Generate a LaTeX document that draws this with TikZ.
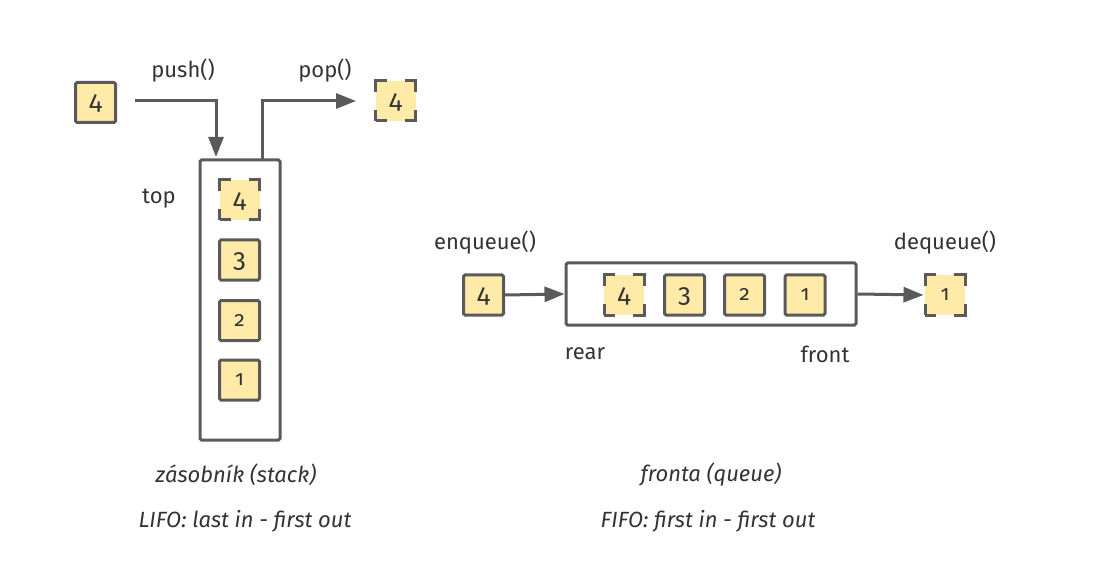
\documentclass[tikz,border=0pt]{standalone}
\usepackage{fontspec}
\setmainfont{Fira Sans}[Numbers=OldStyle]
\usetikzlibrary{arrows.meta}
\definecolor{itemfill}{HTML}{FFEAA8}
\definecolor{linegray}{HTML}{5A5A5A}
\definecolor{textgray}{HTML}{333333}
\tikzset{
  item/.style={draw=linegray, fill=itemfill, line width=3pt, rounded corners=1.5pt,
    minimum width=40pt, minimum height=40pt, inner sep=0pt, font=\fontsize{23}{25}\selectfont, text=textgray},
  itemd/.style={item, rounded corners=0pt, dash pattern=on 11pt off 18pt on 11pt off 0pt},
  tall/.style={font=\fontsize{26}{28}\selectfont, text depth=-3pt},
  short/.style={font=\fontsize{21}{23}\selectfont, text depth=1pt},
  container/.style={draw=linegray, line width=3pt, rounded corners=1.5pt, inner sep=0pt},
  lbl/.style={font=\fontsize{22}{24}\selectfont, text=textgray, inner sep=0pt},
  captext/.style={font=\fontsize{22}{24}\selectfont\itshape, text=textgray, inner sep=0pt},
  arr/.style={draw=linegray, line width=3pt, -{Triangle[length=20pt,width=15pt]}}
}
\begin{document}
\begin{tikzpicture}[x=1pt,y=-1pt]
\useasboundingbox (0,0) rectangle (1105,577);
% stack
\node[container, minimum width=80pt, minimum height=280pt] (stack) at (240,300) {};
\node[item, tall] (in4) at (95.5,102.5) {4};
\node[itemd, tall] (out4) at (395.5,101) {4};
\node[itemd, tall] (s4) at (239.5,200) {4};
\node[item, tall] (s3) at (239.5,260) {3};
\node[item, short] (s2) at (239.5,320.5) {2};
\node[item, short] (s1) at (239.5,380) {1};
\coordinate (pushstart) at (135,101);
\coordinate (pushend) at (216,157);
\coordinate (popstart) at (262,160);
\coordinate (popend) at (356,101);
\draw[arr] (pushstart) -| (pushend);
\draw[arr] (popstart) |- (popend);
\node[lbl] (push) at (183,71) {push()};
\node[lbl] (pop) at (325,71) {pop()};
\node[lbl] (top) at (159,199) {top};
\node[captext] (stackcap) at (236,475) {zásobník (stack)};
\node[captext] (lifo) at (245,521) {LIFO: last in - first out};
% queue
\node[container, minimum width=290pt, minimum height=62pt] (queue) at (711,294) {};
\node[item, tall] (qin) at (483.5,295) {4};
\node[itemd, tall] (q4) at (624,295) {4};
\node[item, tall] (q3) at (684.5,295) {3};
\node[item, short] (q2) at (744.5,295) {2};
\node[item, short] (q1) at (805,295) {1};
\node[itemd, short] (qout) at (945,295) {1};
\draw[arr] (qin.east) -- (queue.west);
\draw[arr] (queue.east) -- (qout.west);
\node[lbl] (enq) at (485,243) {enqueue()};
\node[lbl] (deq) at (945,243) {dequeue()};
\node[lbl] (rear) at (585,354) {rear};
\node[lbl] (front) at (825,354) {front};
\node[captext] (queuecap) at (711,475) {fronta (queue)};
\node[captext] (fifo) at (708,521) {FIFO: first in - first out};
\end{tikzpicture}
\end{document}
